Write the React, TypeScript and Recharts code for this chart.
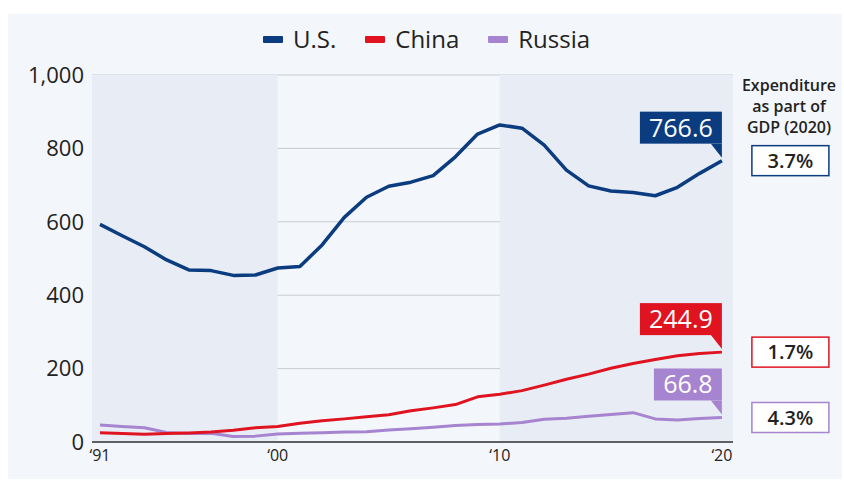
import { CartesianGrid, LabelList, Line, LineChart, ReferenceArea, XAxis, YAxis } from "recharts";

const YEARS = [
  1992, 1993, 1994, 1995, 1996, 1997, 1998, 1999, 2000, 2001, 2002, 2003, 2004, 2005, 2006,
  2007, 2008, 2009, 2010, 2011, 2012, 2013, 2014, 2015, 2016, 2017, 2018, 2019, 2020,
];
const US = [
  593, 562, 532, 496, 469, 467, 454, 455, 474, 478, 537, 612, 667, 697, 708, 726, 777, 839, 864,
  855, 809, 741, 698, 684, 680, 671, 694, 732, 766.6,
];
const CHINA = [
  25, 23, 21, 23, 24.5, 27, 32, 39, 42, 51, 58, 63, 69, 74, 85, 93, 102, 123, 130, 140, 155, 171,
  185, 201, 214, 225, 235, 241, 244.9,
];
const RUSSIA = [
  46, 42, 39, 26, 23, 24, 15, 16, 22, 24, 25, 27, 28, 33, 36, 40, 45, 48, 49, 53, 62, 65, 70, 75,
  80, 63, 60, 64, 66.8,
];
const GDP_SHARE = ["3.7%", "1.7%", "4.3%"];

const X_TICKS = [1992, 2000, 2010, 2020];
const X_TICK_LABELS = ["\u201891", "\u201800", "\u201810", "\u201820"];
const Y_TICKS = [0, 200, 400, 600, 800, 1000];
const X_DOMAIN: [number, number] = [1991.64, 2020.5];

const SERIES = [
  { key: "us", name: "U.S.", color: "#0b3c80", width: 3.5, share: GDP_SHARE[0] },
  { key: "china", name: "China", color: "#df1420", width: 3, share: GDP_SHARE[1] },
  { key: "russia", name: "Russia", color: "#a684cf", width: 3, share: GDP_SHARE[2] },
];

const data = YEARS.map((year, i) => ({ year, us: US[i], china: CHINA[i], russia: RUSSIA[i] }));
const LAST = YEARS.length - 1;
const FONT = "'Open Sans', sans-serif";

function EndTag(props: any) {
  const { x, y, value, index, color, share } = props;
  if (index !== LAST) return <g />;
  const text = Number(value).toFixed(1);
  const w = text.length * 14 + 12;
  const bottom = y - 17;
  return (
    <g>
      <rect x={x - w} y={bottom - 32} width={w} height={32} fill={color} />
      <polygon points={`${x - 11},${bottom} ${x},${bottom} ${x},${y - 3}`} fill={color} />
      <text x={x - w / 2} y={bottom - 16} dy="0.36em" textAnchor="middle" fill="#fff" fontSize={25} fontFamily={FONT}>
        {text}
      </text>
      <rect x={x + 30} y={y - 15} width={77} height={30} fill="#fff" stroke={color} strokeWidth={1.5} />
      <text x={x + 68.5} y={y} dy="0.36em" textAnchor="middle" fill="#222" fontSize={20} fontWeight={600} fontFamily={FONT}>
        {share}
      </text>
    </g>
  );
}

export default function App() {
  return (
    <div style={{ position: "relative", width: 844, height: 481, background: "#fff", fontFamily: FONT }}>
      <style>{"body{margin:0}"}</style>
      <div style={{ position: "absolute", left: 8, top: 14, width: 834, height: 465, background: "#f3f6fa" }} />

      <div style={{ position: "absolute", left: 263, top: 24, display: "flex", alignItems: "center", fontSize: 24, lineHeight: "30px", color: "#222" }}>
        {SERIES.map((s) => (
          <div key={s.key} style={{ display: "flex", alignItems: "center", marginRight: 29 }}>
            <span style={{ display: "inline-block", width: 20, height: 7, background: s.color, marginRight: 10, borderRadius: 1 }} />
            <span>{s.name}</span>
          </div>
        ))}
      </div>

      <div style={{ position: "absolute", left: 729, top: 75, width: 120, textAlign: "center", fontSize: 16, lineHeight: "21px", fontWeight: 600, color: "#222" }}>
        Expenditure
        <br />
        as part of
        <br />
        GDP (2020)
      </div>

      <div style={{ position: "absolute", left: 0, top: 0 }}>
        <LineChart width={844} height={481} data={data} margin={{ top: 75, right: 111, bottom: 9, left: 12 }} style={{ fontFamily: FONT }}>
          <ReferenceArea x1={X_DOMAIN[0]} x2={2000} y1={0} y2={1000} fill="#e8edf5" fillOpacity={1} stroke="none" />
          <ReferenceArea x1={2010} x2={X_DOMAIN[1]} y1={0} y2={1000} fill="#e8edf5" fillOpacity={1} stroke="none" />
          <CartesianGrid vertical={false} stroke="#c8ccd1" strokeWidth={1} />
          <XAxis
            dataKey="year"
            type="number"
            domain={X_DOMAIN}
            ticks={X_TICKS}
            tickFormatter={(v: number) => X_TICK_LABELS[X_TICKS.indexOf(v)] ?? ""}
            tick={{ fill: "#222", fontSize: 16 }}
            tickLine={false}
            axisLine={{ stroke: "#333", strokeWidth: 1.5 }}
            height={30}
            interval={0}
          />
          <YAxis
            domain={[0, 1000]}
            ticks={Y_TICKS}
            tickFormatter={(v: number) => v.toLocaleString("en-US")}
            tick={{ fill: "#222", fontSize: 22 }}
            tickLine={false}
            axisLine={false}
            width={80}
            interval={0}
          />
          {[...SERIES].reverse().map((s) => (
            <Line
              key={s.key}
              type="linear"
              dataKey={s.key}
              stroke={s.color}
              strokeWidth={s.width}
              strokeLinejoin="round"
              dot={false}
              activeDot={false}
              isAnimationActive={false}
            >
              <LabelList dataKey={s.key} content={(p: any) => <EndTag {...p} color={s.color} share={s.share} />} />
            </Line>
          ))}
        </LineChart>
      </div>
    </div>
  );
}
